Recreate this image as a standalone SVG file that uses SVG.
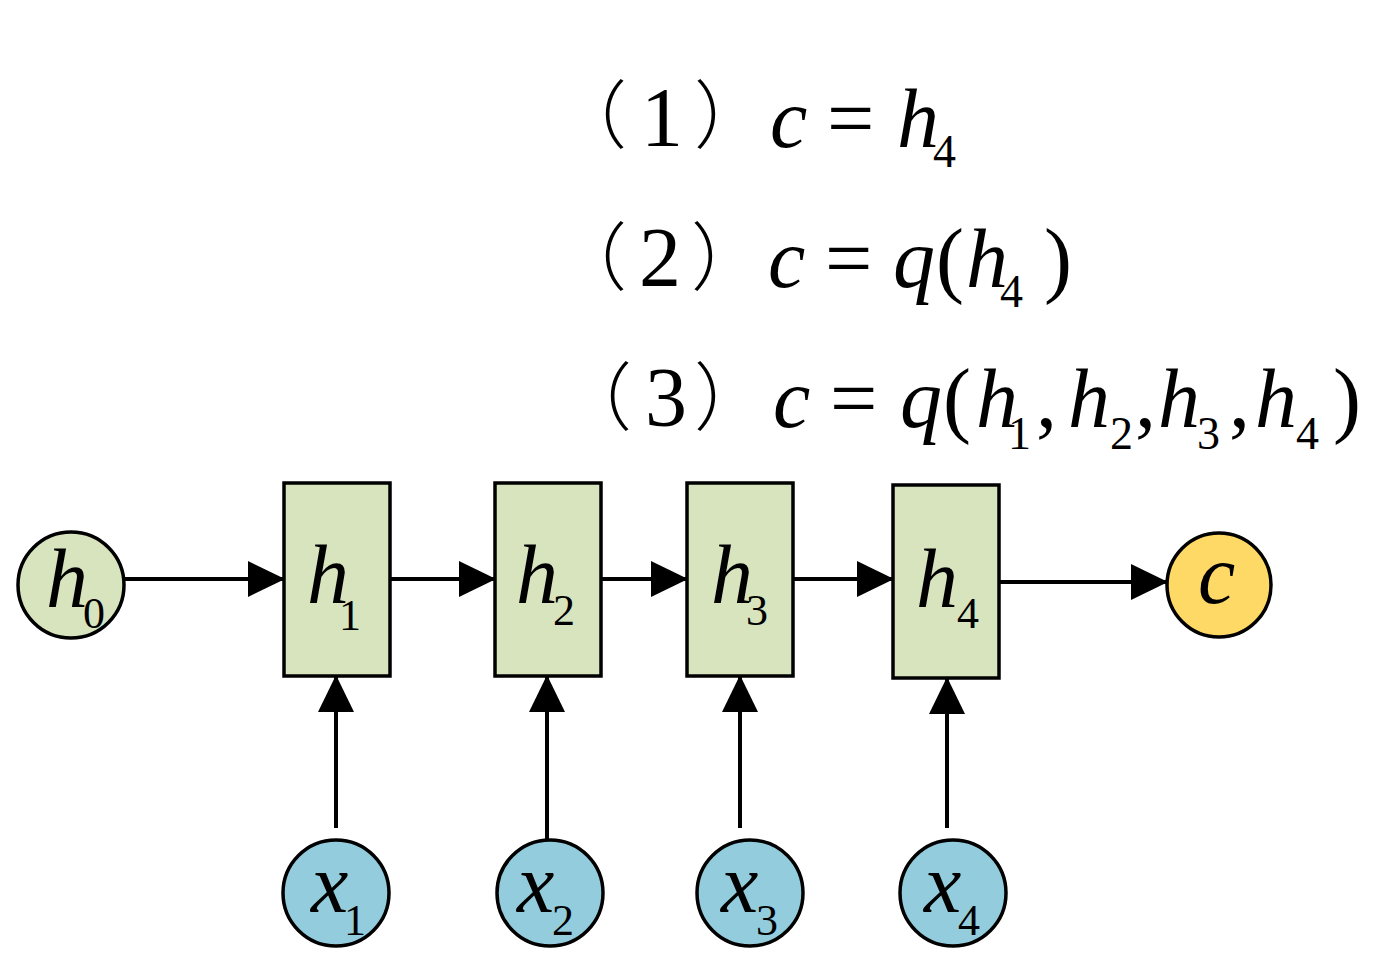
<svg xmlns="http://www.w3.org/2000/svg" width="1384" height="966" viewBox="0 0 1384 966">
<style>
.box{fill:#d7e4bd;stroke:#000;stroke-width:3.5}
.cg{fill:#d7e4bd;stroke:#000;stroke-width:3.5}
.cb{fill:#93cddd;stroke:#000;stroke-width:3.5}
.cy{fill:#ffd966;stroke:#000;stroke-width:3.5}
.e{stroke:#000;stroke-width:4;fill:none;marker-end:url(#ah)}
.t{font-family:"Liberation Serif",serif;font-size:84px;fill:#000}
.i{font-style:italic}
.s{font-family:"Liberation Serif",serif;font-size:44px;fill:#000}
.s2{font-family:"Liberation Serif",serif;font-size:46px;fill:#000}
.p{font-family:"Noto Sans CJK SC",sans-serif;font-size:74px;font-weight:300;fill:#000}
</style>
<defs>
<marker id="ah" markerUnits="userSpaceOnUse" markerWidth="37" markerHeight="36" refX="36" refY="18" orient="auto">
<path d="M0,0 L37,18 L0,36 z" fill="#000"/>
</marker>
</defs>
<rect width="1384" height="966" fill="#fff"/>

<g id="formulas">
<text class="p" x="553" y="142">（</text>
<text class="t" x="641" y="146">1</text>
<text class="p" x="694" y="142">）</text>
<text class="t i" x="770" y="147">c</text>
<text class="t" x="827" y="147">=</text>
<text class="t i" x="897" y="147">h</text>
<text class="s2" x="933" y="167">4</text>

<text class="p" x="553" y="284">（</text>
<text class="t" x="639" y="286">2</text>
<text class="p" x="691" y="284">）</text>
<text class="t i" x="768" y="287">c</text>
<text class="t" x="825" y="287">=</text>
<text class="t i" x="893" y="287">q</text>
<text class="t" x="936" y="287">(</text>
<text class="t i" x="966" y="287">h</text>
<text class="s2" x="1000" y="307">4</text>
<text class="t" x="1044" y="287">)</text>

<text class="p" x="558" y="424">（</text>
<text class="t" x="645" y="426">3</text>
<text class="p" x="694" y="424">）</text>
<text class="t i" x="773" y="427">c</text>
<text class="t" x="830" y="427">=</text>
<text class="t i" x="900" y="427">q</text>
<text class="t" x="943" y="427">(</text>
<text class="t i" x="976" y="427">h</text>
<text class="s2" x="1008" y="449">1</text>
<text class="t" x="1036" y="427">,</text>
<text class="t i" x="1068" y="427">h</text>
<text class="s2" x="1110" y="449">2</text>
<text class="t" x="1135" y="427">,</text>
<text class="t i" x="1158" y="427">h</text>
<text class="s2" x="1197" y="449">3</text>
<text class="t" x="1229" y="427">,</text>
<text class="t i" x="1255" y="427">h</text>
<text class="s2" x="1296" y="449">4</text>
<text class="t" x="1333" y="427">)</text>
</g>

<g id="edges">
<line class="e" x1="124" y1="579" x2="284" y2="579"/>
<line class="e" x1="390" y1="579" x2="495" y2="579"/>
<line class="e" x1="601" y1="579" x2="687" y2="579"/>
<line class="e" x1="793" y1="579" x2="893" y2="579"/>
<line class="e" x1="1000" y1="582" x2="1167" y2="582"/>
<line class="e" x1="336" y1="828" x2="336" y2="676"/>
<line class="e" x1="547" y1="840" x2="547" y2="676"/>
<line class="e" x1="740" y1="828" x2="740" y2="676"/>
<line class="e" x1="947" y1="828" x2="947" y2="678"/>
</g>

<g id="h0"><circle class="cg" cx="71" cy="585" r="53"/><text class="t i" x="46" y="607">h</text><text class="s" x="83" y="628">0</text></g>
<g id="h1"><rect class="box" x="284" y="483" width="106" height="193"/><text class="t i" x="307" y="603">h</text><text class="s" x="339" y="630">1</text></g>
<g id="h2"><rect class="box" x="495" y="483" width="106" height="193"/><text class="t i" x="516" y="603">h</text><text class="s" x="553" y="625">2</text></g>
<g id="h3"><rect class="box" x="687" y="483" width="106" height="193"/><text class="t i" x="711" y="603">h</text><text class="s" x="746" y="625">3</text></g>
<g id="h4"><rect class="box" x="893" y="485" width="106" height="193"/><text class="t i" x="916" y="607">h</text><text class="s" x="957" y="628">4</text></g>
<g id="c"><circle class="cy" cx="1219" cy="585" r="52"/><text class="t i" x="1198" y="603">c</text></g>
<g id="x1"><circle class="cb" cx="336" cy="893" r="53"/><text class="t i" x="311" y="912">x</text><text class="s" x="344" y="935">1</text></g>
<g id="x2"><circle class="cb" cx="550" cy="893" r="53"/><text class="t i" x="517" y="912">x</text><text class="s" x="552" y="935">2</text></g>
<g id="x3"><circle class="cb" cx="750" cy="893" r="53"/><text class="t i" x="721" y="912">x</text><text class="s" x="756" y="935">3</text></g>
<g id="x4"><circle class="cb" cx="953" cy="893" r="53"/><text class="t i" x="924" y="912">x</text><text class="s" x="958" y="935">4</text></g>
</svg>
